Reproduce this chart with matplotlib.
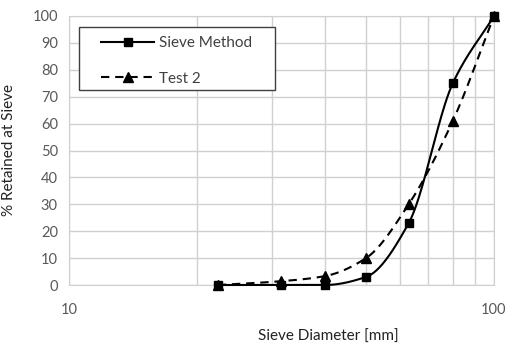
import numpy as np
import matplotlib
matplotlib.use("Agg")
from matplotlib import pyplot as plt
from matplotlib.patches import Rectangle
from matplotlib.ticker import FixedLocator, NullFormatter

plt.rcParams['font.family'] = ['Lato', 'DejaVu Sans']

# sieve sizes [mm]
sizes = [22.4, 31.5, 40, 50, 63, 80, 100]
sieve_method = [0, 0, 0, 3, 23, 75, 100]
test_2 = [0, 1.4, 3.3, 10, 30, 61, 100]
y_ticks = list(range(0, 101, 10))


def pchip(x, y, n=40):
    # monotone cubic through the points, in log-x space (smoothed line)
    u = np.log10(np.asarray(x, float))
    v = np.asarray(y, float)
    h = np.diff(u)
    d = np.diff(v) / h
    m = np.zeros_like(v)
    for k in range(1, len(v) - 1):
        if d[k-1] * d[k] > 0:
            w1 = 2*h[k] + h[k-1]
            w2 = h[k] + 2*h[k-1]
            m[k] = (w1 + w2) / (w1/d[k-1] + w2/d[k])
    m[0] = d[0]
    m[-1] = d[-1]
    uu, vv = [], []
    for k in range(len(h)):
        t = np.linspace(0, 1, n)
        h00 = 2*t**3 - 3*t**2 + 1
        h10 = t**3 - 2*t**2 + t
        h01 = -2*t**3 + 3*t**2
        h11 = t**3 - t**2
        uu.append(u[k] + t*h[k])
        vv.append(h00*v[k] + h10*h[k]*m[k] + h01*v[k+1] + h11*h[k]*m[k+1])
    return 10**np.concatenate(uu), np.concatenate(vv)


fig = plt.figure(figsize=(5.08, 3.44), dpi=100)
ax = fig.add_axes([0.1358, 0.1715, 0.8366, 0.782])

xs, ys = pchip(sizes, sieve_method)
ax.plot(xs, ys, color='black', lw=1.5, zorder=3, clip_on=False)
ax.plot(sizes, sieve_method, ls='none', marker='s', ms=6.3, color='black',
        zorder=4, clip_on=False)
xt, yt = pchip(sizes, test_2)
ax.plot(xt, yt, color='black', lw=1.5, ls=(0, (4, 2.8)), zorder=3, clip_on=False)
ax.plot(sizes, test_2, ls='none', marker='^', ms=7, color='black',
        zorder=4, clip_on=False)

ax.set_xscale('log')
ax.set_xlim(10, 100)
ax.set_ylim(0, 100)
ax.set_yticks(y_ticks)
ax.xaxis.set_major_locator(FixedLocator([10, 100]))
ax.xaxis.set_minor_locator(FixedLocator(list(range(20, 100, 10))))
ax.xaxis.set_minor_formatter(NullFormatter())
ax.set_xticklabels(['10', '100'])
ax.grid(True, which='both', color='#d0d0d0', lw=1)
ax.set_axisbelow(True)
ax.tick_params(which='both', length=0, labelsize=10.5, colors='#595959')
ax.tick_params(axis='x', pad=13)
ax.tick_params(axis='y', pad=8)
for s in ax.spines.values():
    s.set_color('#d0d0d0')

ax.set_xlabel('Sieve Diameter [mm]', fontsize=11, color='#222222')
ax.xaxis.set_label_coords(0.61, -0.165)
ax.set_ylabel('% Retained at Sieve', fontsize=11, color='#222222')
ax.yaxis.set_label_coords(-0.125, 0.5)

# legend frame drawn separately to get Excel-like padding
ax.add_patch(Rectangle((0.0235, 0.725), 0.461, 0.234, transform=ax.transAxes,
                       fc='white', ec='#404040', lw=1, zorder=5))
h1, = ax.plot([], [], color='black', lw=1.5, marker='s', ms=6.3)
h2, = ax.plot([], [], color='black', lw=1.5, ls=(0, (4, 2.8)), marker='^', ms=7)
leg = ax.legend([h1, h2], ['Sieve Method', 'Test 2'], loc='upper left',
                bbox_to_anchor=(0.075, 0.925), frameon=False, borderpad=0,
                borderaxespad=0, handlelength=3.5, handletextpad=0.3,
                labelspacing=1.4, fontsize=11)
leg.set_zorder(6)
for t in leg.get_texts():
    t.set_color('#404040')

fig.savefig('out.png', dpi=100)
